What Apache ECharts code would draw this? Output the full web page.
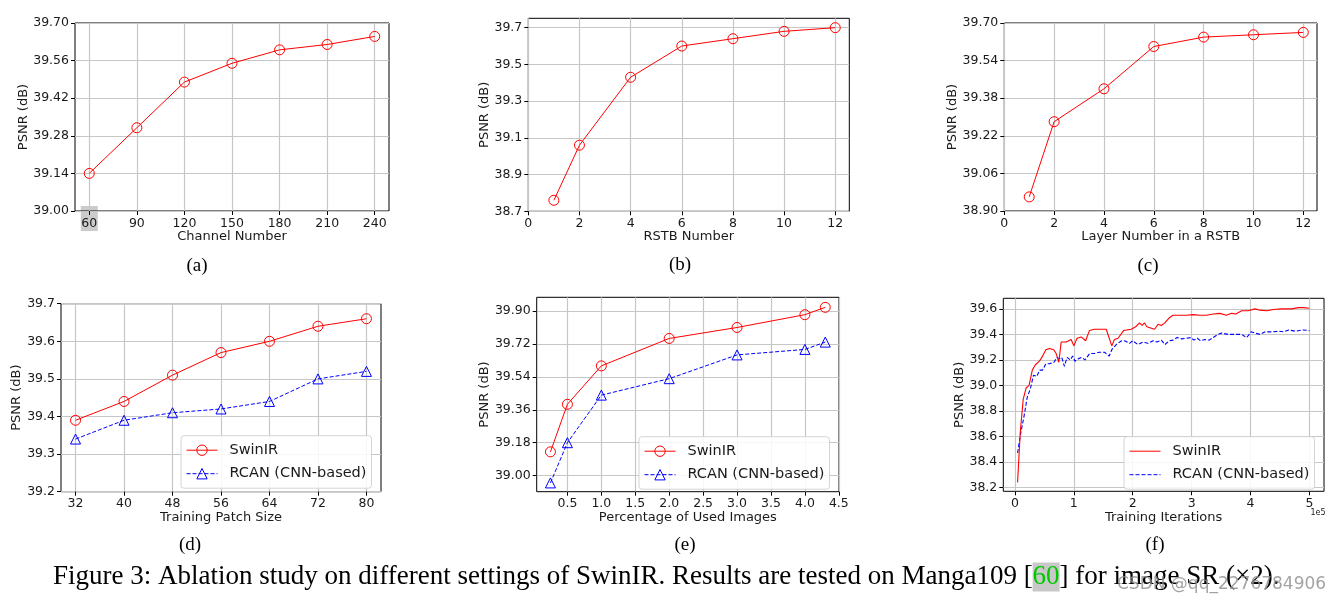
<!DOCTYPE html>
<html><head><meta charset="utf-8">
<script src="https://cdn.jsdelivr.net/npm/echarts@6/dist/echarts.min.js"></script>
<style>html,body{margin:0;padding:0;background:#fff}#c{width:1342px;height:605px}</style>
</head><body><div id="c"></div>
<script>
// ---------------- data ----------------
const aChannels = [60, 90, 120, 150, 180, 210, 240];
const aPSNR = [39.14, 39.31, 39.48, 39.55, 39.60, 39.62, 39.65];

const bRSTB = [1, 2, 4, 6, 8, 10, 12];
const bPSNR = [38.76, 39.06, 39.43, 39.60, 39.64, 39.68, 39.70];

const cLayers = [1, 2, 4, 6, 8, 10, 12];
const cPSNR = [38.96, 39.28, 39.42, 39.60, 39.64, 39.65, 39.66];

const dPatch = [32, 40, 48, 56, 64, 72, 80];
const dSwinIR = [39.39, 39.44, 39.51, 39.57, 39.60, 39.64, 39.66];
const dRCAN = [39.34, 39.39, 39.41, 39.42, 39.44, 39.50, 39.52];

const ePercent = [0.25, 0.5, 1.0, 2.0, 3.0, 4.0, 4.3];
const eSwinIR = [39.13, 39.39, 39.60, 39.75, 39.81, 39.88, 39.92];
const eRCAN = [38.96, 39.18, 39.44, 39.53, 39.66, 39.69, 39.73];

const fIterSwinIR = [4500, 9000, 14000, 19000, 24000, 29500, 34500, 41500, 47000, 52500, 58500, 66000, 70000, 74500, 78500, 87000, 95500, 100000, 105500, 112500, 120000, 126500, 135000, 146000, 155000, 164500, 169000, 175000, 184500, 197500, 205000, 211500, 216000, 220000, 224000, 237000, 243000, 248500, 254500, 262000, 268500, 280000, 291000, 303000, 314000, 325000, 337000, 348000, 359000, 368000, 375000, 385000, 396000, 407500, 416000, 428000, 439000, 453000, 470000, 481000, 490000, 500000];
const fSwinIR = [38.24, 38.63, 38.89, 38.98, 39.00, 39.12, 39.16, 39.19, 39.23, 39.28, 39.29, 39.28, 39.25, 39.18, 39.34, 39.34, 39.36, 39.31, 39.37, 39.38, 39.35, 39.43, 39.44, 39.44, 39.44, 39.31, 39.36, 39.37, 39.43, 39.44, 39.46, 39.49, 39.47, 39.49, 39.46, 39.44, 39.48, 39.47, 39.49, 39.53, 39.55, 39.55, 39.55, 39.555, 39.55, 39.55, 39.56, 39.565, 39.55, 39.565, 39.56, 39.585, 39.585, 39.60, 39.59, 39.585, 39.595, 39.60, 39.60, 39.61, 39.61, 39.605];
const fIterRCAN = [4500, 10000, 15500, 21000, 26000, 31500, 37000, 42000, 47000, 52500, 58500, 66000, 71500, 75500, 79500, 84000, 88500, 94000, 98000, 102000, 108000, 113500, 119000, 127000, 135000, 143000, 152000, 160000, 164500, 172000, 181000, 186000, 194500, 200000, 209000, 217500, 226000, 234500, 241000, 248500, 254500, 262000, 268500, 275500, 283000, 291500, 298000, 304000, 309500, 315000, 322500, 330000, 338000, 345000, 351000, 362000, 373000, 385000, 393500, 401000, 408000, 416000, 425000, 436000, 448000, 456000, 465000, 476000, 488000, 500000];
const fRCAN = [38.47, 38.63, 38.76, 38.91, 38.97, 39.08, 39.07, 39.12, 39.12, 39.17, 39.17, 39.18, 39.22, 39.21, 39.22, 39.15, 39.22, 39.20, 39.23, 39.19, 39.21, 39.22, 39.20, 39.25, 39.25, 39.26, 39.26, 39.23, 39.28, 39.32, 39.35, 39.35, 39.33, 39.35, 39.32, 39.34, 39.33, 39.35, 39.34, 39.355, 39.32, 39.35, 39.355, 39.375, 39.365, 39.37, 39.375, 39.355, 39.37, 39.35, 39.36, 39.355, 39.38, 39.40, 39.41, 39.40, 39.40, 39.40, 39.375, 39.42, 39.41, 39.40, 39.42, 39.42, 39.425, 39.42, 39.435, 39.425, 39.435, 39.43];

// ---------------- tick labels ----------------
const aXTicks = [60, 90, 120, 150, 180, 210, 240];
const aYTicks = [39.00, 39.14, 39.28, 39.42, 39.56, 39.70];
const bXTicks = [0, 2, 4, 6, 8, 10, 12];
const bYTicks = [38.7, 38.9, 39.1, 39.3, 39.5, 39.7];
const cXTicks = [0, 2, 4, 6, 8, 10, 12];
const cYTicks = [38.90, 39.06, 39.22, 39.38, 39.54, 39.70];
const dXTicks = [32, 40, 48, 56, 64, 72, 80];
const dYTicks = [39.2, 39.3, 39.4, 39.5, 39.6, 39.7];
const eXTicks = [0.5, 1.0, 1.5, 2.0, 2.5, 3.0, 3.5, 4.0, 4.5];
const eYTicks = [39.00, 39.18, 39.36, 39.54, 39.72, 39.90];
const fXTicks = [0, 100000, 200000, 300000, 400000, 500000];
const fYTicks = [38.2, 38.4, 38.6, 38.8, 39.0, 39.2, 39.4, 39.6];

const seriesNames = ['SwinIR', 'RCAN (CNN-based)'];
const xNames = ['Channel Number', 'RSTB Number', 'Layer Number in a RSTB', 'Training Patch Size', 'Percentage of Used Images', 'Training Iterations'];
const yName = 'PSNR (dB)';
const panelLetters = ['(a)', '(b)', '(c)', '(d)', '(e)', '(f)'];

// ---------------- style / layout ----------------
const SANS = "'DejaVu Sans', sans-serif";
const SERIF = "'Liberation Serif', serif";
const TXT = '#1a1a1a';
const GRIDC = '#c6c6c6';
const FS = 12.5;
const RED = '#ff0000', BLUE = '#0000ff';

const panels = [
  {grid: [75, 23, 314, 188], x: [51, 249], y: [39.0, 39.7], xt: aXTicks, yt: aYTicks, xd: 0, yd: 2, yGap: 45, xGap: 19, letter: [197, 266]},
  {grid: [528.3, 18.3, 321, 193], x: [0, 12.55], y: [38.7, 39.751], xt: bXTicks, yt: bYTicks, xd: 0, yd: 1, yGap: 37.5, xGap: 19, letter: [680, 265]},
  {grid: [1004.3, 23, 312.7, 188], x: [0, 12.55], y: [38.9, 39.7], xt: cXTicks, yt: cYTicks, xd: 0, yd: 2, yGap: 45.5, xGap: 19, letter: [1148, 266]},
  {grid: [61, 303.7, 320, 188], x: [29.6, 82.4], y: [39.2, 39.7], xt: dXTicks, yt: dYTicks, xd: 0, yd: 1, yGap: 37.8, xGap: 19, letter: [190, 545]},
  {grid: [536.7, 297.3, 302.3, 194.4], x: [0.0475, 4.5025], y: [38.912, 39.975], xt: eXTicks, yt: eYTicks, xd: 1, yd: 2, yGap: 46, xGap: 19, letter: [685, 545]},
  {grid: [1003.3, 298.3, 320.7, 193], x: [-19750, 524750], y: [38.17, 39.683], xt: fXTicks, yt: fYTicks, xd: -1, yd: 1, yGap: 37, xGap: 19.5, letter: [1155, 545]}
];

function fmt(d) {
  if (d === -1) return v => String(Math.round(v / 100000));
  return v => Number(v).toFixed(d);
}
function axisCommon(gi, range, ticks, dec, name, gap) {
  return {
    type: 'value', gridIndex: gi, min: range[0], max: range[1],
    name: name, nameLocation: 'middle', nameGap: gap, nameMoveOverlap: false,
    nameTextStyle: {fontFamily: SANS, fontSize: 13, color: TXT},
    axisLine: {show: false, onZero: false},
    axisTick: {show: true, inside: false, length: 4, lineStyle: {color: '#000', width: 1}, customValues: ticks},
    axisLabel: {show: true, customValues: ticks, formatter: fmt(dec), fontFamily: SANS, fontSize: FS, color: TXT, margin: 6, hideOverlap: false},
    splitLine: {show: true, lineStyle: {color: GRIDC, width: 1.2}},
    splitArea: {show: false}
  };
}
const zip = (xs, ys) => xs.map((x, i) => [x, ys[i]]);

const grids = [], xAxes = [], yAxes = [];
panels.forEach((p, i) => {
  grids.push({left: p.grid[0], top: p.grid[1], width: p.grid[2], height: p.grid[3], show: true,
    borderColor: '#000', borderWidth: 1, backgroundColor: 'rgba(0,0,0,0)', containLabel: false, outerBoundsMode: 'none'});
  xAxes.push(axisCommon(i, p.x, p.xt, p.xd, xNames[i], p.xGap));
  yAxes.push(axisCommon(i, p.y, p.yt, p.yd, yName, p.yGap));
});

function markerSeries(gi, name, data, color, symbol, dashed) {
  return {
    type: 'line', name: name, xAxisIndex: gi, yAxisIndex: gi, data: data,
    symbol: symbol, symbolSize: 10, showSymbol: true, animation: false,
    lineStyle: {color: color, width: 1, type: dashed ? [4, 2] : 'solid'},
    itemStyle: {color: 'rgba(255,255,255,0)', borderColor: color, borderWidth: 1},
    emphasis: {disabled: true}, z: dashed ? 2 : 3
  };
}
function plainSeries(gi, name, data, color, dashed) {
  return {
    type: 'line', name: name, xAxisIndex: gi, yAxisIndex: gi, data: data,
    symbol: 'none', showSymbol: false, animation: false,
    lineStyle: {color: color, width: 1.1, type: dashed ? [4, 2] : 'solid'},
    itemStyle: {color: color},
    emphasis: {disabled: true}, z: dashed ? 2 : 3
  };
}

const series = [
  markerSeries(0, 'SwinIR#a', zip(aChannels, aPSNR), RED, 'circle', false),
  markerSeries(1, 'SwinIR#b', zip(bRSTB, bPSNR), RED, 'circle', false),
  markerSeries(2, 'SwinIR#c', zip(cLayers, cPSNR), RED, 'circle', false),
  markerSeries(3, seriesNames[0] + '#d', zip(dPatch, dSwinIR), RED, 'circle', false),
  markerSeries(3, seriesNames[1] + '#d', zip(dPatch, dRCAN), BLUE, 'triangle', true),
  markerSeries(4, seriesNames[0] + '#e', zip(ePercent, eSwinIR), RED, 'circle', false),
  markerSeries(4, seriesNames[1] + '#e', zip(ePercent, eRCAN), BLUE, 'triangle', true),
  plainSeries(5, seriesNames[0] + '#f', zip(fIterSwinIR, fSwinIR), RED, false),
  plainSeries(5, seriesNames[1] + '#f', zip(fIterRCAN, fRCAN), BLUE, true)
];

function legendAt(suffix, left, top, extraItemStyle) {
  return {
    show: true, orient: 'vertical', left: left, top: top,
    data: seriesNames.map(n => n + suffix),
    formatter: n => '{g|}' + n.split('#')[0],
    itemWidth: 31, itemHeight: 13, itemGap: 8.5,
    padding: [7, 5, 7, 5],
    borderColor: '#d4d4d4', borderWidth: 1, borderRadius: 3,
    backgroundColor: 'rgba(255,255,255,0.85)',
    textStyle: {fontFamily: SANS, fontSize: 14.5, color: TXT, rich: {g: {width: 7}}},
    itemStyle: Object.assign({borderWidth: 1}, extraItemStyle || {}),
    lineStyle: {width: 1},
    selectedMode: false, inactiveColor: '#ccc'
  };
}
const legends = [
  legendAt('#d', 181, 435.7),
  legendAt('#e', 639, 436.7),
  legendAt('#f', 1124, 436.7, {color: 'rgba(0,0,0,0)', borderWidth: 0, opacity: 0})
];

const graphics = [];
panels.forEach((p, i) => {
  graphics.push({type: 'text', x: p.letter[0], y: p.letter[1], z: 10,
    style: {text: panelLetters[i], fontFamily: SERIF, fontSize: 19, fill: '#000', align: 'center', verticalAlign: 'middle'}});
});
graphics.push({type: 'text', x: 1318, y: 513, z: 10,
  style: {text: '1e5', fontFamily: SANS, fontSize: 8, fill: TXT, align: 'center', verticalAlign: 'middle'}});
graphics.push({type: 'text', x: 53, y: 577, z: 10,
  style: {
    text: 'Figure 3: Ablation study on different settings of SwinIR. Results are tested on Manga109 [{hl|60}] for image SR (×2).',
    fontFamily: SERIF, fontSize: 27, fill: '#000', verticalAlign: 'middle', align: 'left',
    rich: {hl: {fontFamily: SERIF, fontSize: 27, fill: '#00c800', backgroundColor: '#c8c8c8', padding: [1, 0, 1, 0]}}
  }});
graphics.push({type: 'text', x: 1117, y: 585, z: 11,
  style: {text: 'CSDN @qq_2276784906', fontFamily: SANS, fontSize: 17, fill: 'rgba(140,140,140,0.8)', verticalAlign: 'middle', align: 'left'}});

const chart = echarts.init(document.getElementById('c'), null, {renderer: 'canvas'});
const option = {
  animation: false,
  backgroundColor: '#fff',
  textStyle: {fontFamily: SANS},
  grid: grids, xAxis: xAxes, yAxis: yAxes,
  legend: legends,
  series: series,
  graphic: {elements: graphics}
};
chart.setOption(option);

// gray highlight behind the "60" tick label in panel (a)
const p60 = chart.convertToPixel({gridIndex: 0}, [aXTicks[0], aYTicks[0]]);
graphics.unshift({type: 'rect', z: -1, shape: {x: p60[0] - 8.5, y: p60[1] - 5, width: 17, height: 25}, style: {fill: '#cbcbcb'}});
chart.setOption({graphic: {elements: graphics}}, {replaceMerge: ['graphic']});
</script></body></html>
